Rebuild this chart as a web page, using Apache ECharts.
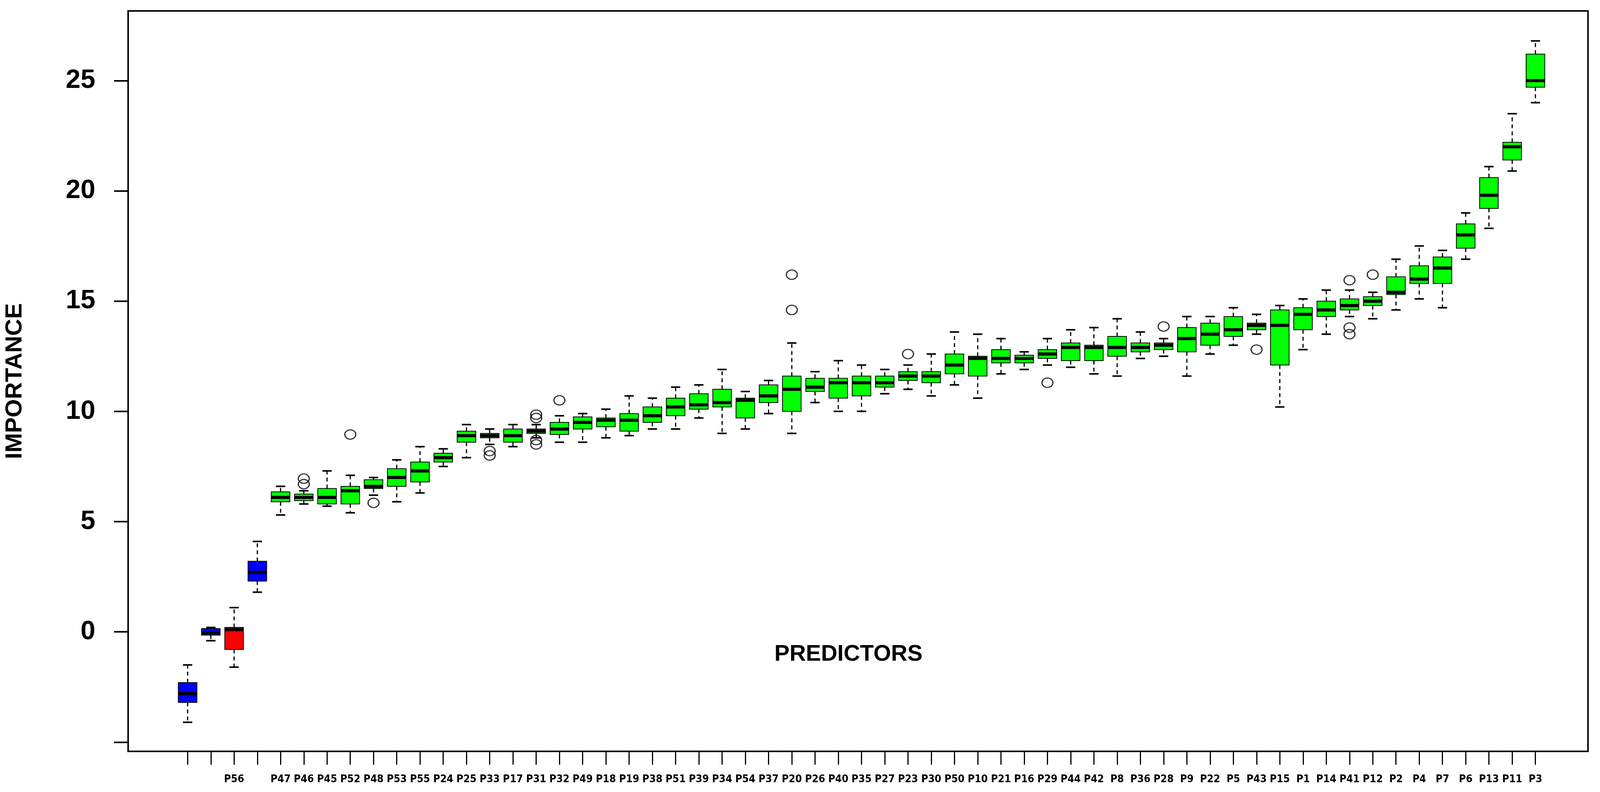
<!DOCTYPE html>
<html>
<head>
<meta charset="UTF-8">
<title>Importance</title>
<style>
  html, body { margin: 0; padding: 0; background: #fff; overflow: hidden; }
  #chart { width: 100vw; height: 100vh; }
</style>
<script src="https://cdn.jsdelivr.net/npm/echarts@6/dist/echarts.min.js"></script>
</head>
<body>
<div id="chart"></div>
<script>
// predictor labels (blank ones are hidden by overlap in the original)
var categories = ['', '', 'P56', '', 'P47', 'P46', 'P45', 'P52', 'P48', 'P53', 'P55', 'P24', 'P25', 'P33',
  'P17', 'P31', 'P32', 'P49', 'P18', 'P19', 'P38', 'P51', 'P39', 'P34', 'P54', 'P37', 'P20', 'P26',
  'P40', 'P35', 'P27', 'P23', 'P30', 'P50', 'P10', 'P21', 'P16', 'P29', 'P44', 'P42', 'P8', 'P36',
  'P28', 'P9', 'P22', 'P5', 'P43', 'P15', 'P1', 'P14', 'P41', 'P12', 'P2', 'P4', 'P7', 'P6', 'P13',
  'P11', 'P3'];

// 0 = shadow (blue), 1 = rejected (red), 2 = confirmed (green)
var groups = [0, 0, 1, 0];
for (var g = 4; g < categories.length; g++) groups.push(2);

// [min, q1, median, q3, max]
var boxes = [
  [-4.1, -3.2, -2.8, -2.3, -1.5],
  [-0.4, -0.15, -0.05, 0.15, 0.2],
  [-1.6, -0.8, 0.1, 0.2, 1.1],
  [1.8, 2.3, 2.7, 3.2, 4.1],
  [5.3, 5.9, 6.1, 6.35, 6.6],
  [5.8, 5.95, 6.1, 6.25, 6.4],
  [5.7, 5.8, 6.1, 6.5, 7.3],
  [5.4, 5.8, 6.4, 6.6, 7.1],
  [6.2, 6.5, 6.6, 6.9, 7.0],
  [5.9, 6.6, 7.0, 7.4, 7.8],
  [6.3, 6.8, 7.3, 7.7, 8.4],
  [7.5, 7.7, 7.9, 8.1, 8.3],
  [7.9, 8.6, 8.9, 9.1, 9.4],
  [8.5, 8.8, 8.9, 9.0, 9.2],
  [8.4, 8.6, 8.9, 9.2, 9.4],
  [8.8, 9.0, 9.1, 9.2, 9.4],
  [8.6, 8.95, 9.2, 9.5, 9.8],
  [8.6, 9.2, 9.5, 9.75, 9.9],
  [8.8, 9.3, 9.6, 9.7, 10.1],
  [8.9, 9.1, 9.6, 9.9, 10.7],
  [9.2, 9.5, 9.8, 10.2, 10.6],
  [9.2, 9.8, 10.2, 10.6, 11.1],
  [9.7, 10.1, 10.3, 10.8, 11.2],
  [9.0, 10.2, 10.4, 11.0, 11.9],
  [9.2, 9.7, 10.5, 10.6, 10.9],
  [9.9, 10.4, 10.7, 11.2, 11.4],
  [9.0, 10.0, 11.0, 11.6, 13.1],
  [10.4, 10.9, 11.1, 11.5, 11.8],
  [10.0, 10.6, 11.3, 11.5, 12.3],
  [10.0, 10.7, 11.3, 11.6, 12.1],
  [10.8, 11.1, 11.3, 11.6, 11.9],
  [11.0, 11.4, 11.6, 11.8, 12.1],
  [10.7, 11.3, 11.6, 11.8, 12.6],
  [11.2, 11.7, 12.1, 12.6, 13.6],
  [10.6, 11.6, 12.4, 12.5, 13.5],
  [11.7, 12.2, 12.4, 12.8, 13.3],
  [11.9, 12.2, 12.4, 12.55, 12.7],
  [12.1, 12.4, 12.6, 12.8, 13.3],
  [12.0, 12.3, 12.9, 13.1, 13.7],
  [11.7, 12.3, 12.9, 13.0, 13.8],
  [11.6, 12.5, 12.9, 13.4, 14.2],
  [12.4, 12.7, 12.9, 13.1, 13.6],
  [12.5, 12.8, 13.0, 13.1, 13.3],
  [11.6, 12.7, 13.3, 13.8, 14.3],
  [12.6, 13.0, 13.5, 14.0, 14.3],
  [13.0, 13.4, 13.7, 14.3, 14.7],
  [13.5, 13.7, 13.9, 14.0, 14.4],
  [10.2, 12.1, 13.9, 14.6, 14.8],
  [12.8, 13.7, 14.4, 14.7, 15.1],
  [13.5, 14.3, 14.6, 15.0, 15.5],
  [14.3, 14.6, 14.8, 15.1, 15.5],
  [14.2, 14.8, 15.0, 15.2, 15.4],
  [14.6, 15.3, 15.4, 16.1, 16.9],
  [15.1, 15.8, 16.0, 16.6, 17.5],
  [14.7, 15.8, 16.5, 17.0, 17.3],
  [16.9, 17.4, 18.0, 18.5, 19.0],
  [18.3, 19.2, 19.8, 20.6, 21.1],
  [20.9, 21.4, 22.0, 22.2, 23.5],
  [24.0, 24.7, 25.0, 26.2, 26.8]
];

// [category index, value]
var outliers = [
  [5, 6.7], [5, 6.95], [7, 8.95], [8, 5.85], [13, 8.0], [13, 8.2],
  [15, 8.5], [15, 8.7], [15, 9.7], [15, 9.85], [16, 10.5], [26, 14.6], [26, 16.2],
  [31, 12.6], [37, 11.3], [42, 13.85], [46, 12.8], [50, 13.5], [50, 13.8], [50, 15.95],
  [51, 16.2]
];

var yTicks = [-5, 0, 5, 10, 15, 20, 25];
var yLabels = [0, 5, 10, 15, 20, 25];

var colors = ['#0000ff', '#ff0000', '#00ff00'];
var yMin = -5.42, yMax = 28.16;

var boxData = boxes.map(function (b, i) {
  return [i, b[0], b[1], b[2], b[3], b[4], groups[i]];
});

function renderBox(params, api) {
  var x = api.value(0);
  var pMin = api.coord([x, api.value(1)]);
  var pQ1 = api.coord([x, api.value(2)]);
  var pMed = api.coord([x, api.value(3)]);
  var pQ3 = api.coord([x, api.value(4)]);
  var pMax = api.coord([x, api.value(5)]);
  var bw = api.size([1, 0])[0] * 0.8;
  var cx = pMed[0];
  var dash = { stroke: '#000', lineWidth: 3, lineDash: [10, 8] };
  var solid = { stroke: '#000', lineWidth: 4 };
  return {
    type: 'group',
    children: [
      { type: 'line', shape: { x1: cx, y1: pQ3[1], x2: cx, y2: pMax[1] }, style: dash },
      { type: 'line', shape: { x1: cx, y1: pQ1[1], x2: cx, y2: pMin[1] }, style: dash },
      { type: 'line', shape: { x1: cx - bw / 4, y1: pMax[1], x2: cx + bw / 4, y2: pMax[1] }, style: solid },
      { type: 'line', shape: { x1: cx - bw / 4, y1: pMin[1], x2: cx + bw / 4, y2: pMin[1] }, style: solid },
      { type: 'rect', shape: { x: cx - bw / 2, y: pQ3[1], width: bw, height: pQ1[1] - pQ3[1] },
        style: { fill: colors[api.value(6)], stroke: '#000', lineWidth: 2 } },
      { type: 'line', shape: { x1: cx - bw / 2, y1: pMed[1], x2: cx + bw / 2, y2: pMed[1] },
        style: { stroke: '#000', lineWidth: 8 } }
    ]
  };
}

var chart = echarts.init(document.getElementById('chart'));
chart.setOption({
  animation: false,
  backgroundColor: '#fff',
  grid: [
    { left: '7.56%', right: '0.75%', top: '1.38%', bottom: '5.13%', show: true, borderColor: '#000', borderWidth: 4 },
    { left: '11.0%', right: '3.31%', top: '1.38%', bottom: '5.13%' }
  ],
  xAxis: [
    { gridIndex: 0, type: 'value', min: 0, max: 1, show: false },
    {
      gridIndex: 1, type: 'category', data: categories, position: 'bottom',
      axisLine: { show: false, onZero: false },
      axisTick: { show: true, alignWithLabel: true, interval: 0, length: 34, lineStyle: { color: '#000', width: 3 } },
      axisLabel: {
        interval: 0, margin: 58, fontSize: 27, fontWeight: 'bold', color: '#000',
        fontFamily: 'Liberation Sans Narrow, DejaVu Sans Condensed, sans-serif'
      }
    }
  ],
  yAxis: [
    {
      gridIndex: 0, type: 'value', min: yMin, max: yMax,
      name: 'IMPORTANCE', nameLocation: 'middle', nameGap: 260, nameRotate: 90,
      nameTextStyle: { fontSize: 60, fontWeight: 'bold', color: '#000', fontFamily: 'Liberation Sans, Arial, sans-serif' },
      splitLine: { show: false },
      axisLine: { show: false },
      axisTick: { show: true, length: 36, customValues: yTicks, lineStyle: { color: '#000', width: 4 } },
      axisLabel: {
        customValues: yLabels, margin: 84, fontSize: 68, fontWeight: 'bold', color: '#000',
        fontFamily: 'Liberation Sans, Arial, sans-serif'
      }
    },
    { gridIndex: 1, type: 'value', min: yMin, max: yMax, show: false, splitLine: { show: false } }
  ],
  graphic: [{
    type: 'text', left: '48.4%', top: '81.2%',
    style: { text: 'PREDICTORS', fontSize: 58, fontWeight: 'bold', fill: '#000', fontFamily: 'Liberation Sans, Arial, sans-serif' }
  }],
  series: [
    {
      type: 'custom', xAxisIndex: 1, yAxisIndex: 1,
      renderItem: renderBox, data: boxData,
      encode: { x: 0, y: [1, 2, 3, 4, 5] }
    },
    {
      type: 'scatter', xAxisIndex: 1, yAxisIndex: 1,
      data: outliers, symbol: 'circle', symbolSize: [28, 24],
      itemStyle: { color: 'rgba(0,0,0,0)', borderColor: '#000', borderWidth: 3 }
    }
  ]
});
</script>
</body>
</html>
